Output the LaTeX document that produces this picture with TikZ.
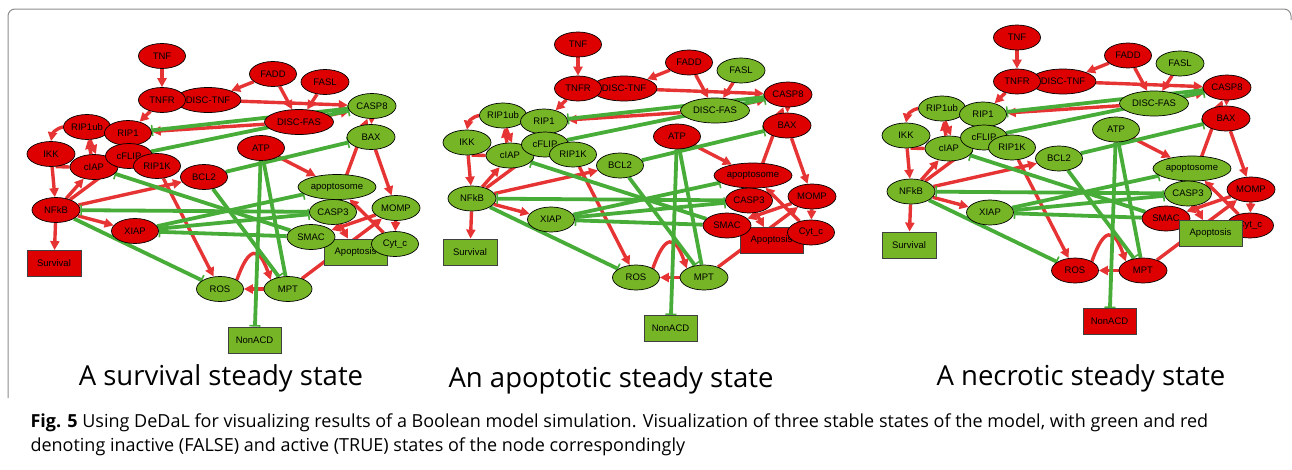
\documentclass[tikz,border=0pt]{standalone}
\usepackage{fontspec}
\setmainfont{Liberation Sans}
\newfontfamily\capfont{Open Sans}
\usetikzlibrary{arrows.meta,shapes.geometric}
\definecolor{nred}{RGB}{222,0,0}
\definecolor{ngreen}{RGB}{118,182,38}
\definecolor{ered}{RGB}{230,52,52}
\definecolor{egreen}{RGB}{72,172,56}
\pgfdeclarelayer{edges}
\pgfsetlayers{edges,main}
\newcommand\setred[2]{\foreach \n in {#2}{\expandafter\xdef\csname R#1\n\endcsname{}}}
\setred{1}{TNF,TNFR,DISCTNF,FADD,FASL,DISCFAS,RIP1ub,RIP1,IKK,cFLIP,cIAP,RIP1K,BCL2,ATP,NFkB,XIAP,Survival}
\setred{2}{TNF,TNFR,DISCTNF,FADD,CASP8,BAX,ATP,apoptosome,CASP3,MOMP,SMAC,CytC,Apoptosis}
\setred{3}{TNF,TNFR,DISCTNF,FADD,CASP8,BAX,MOMP,SMAC,CytC,ROS,MPT,NonACD}
\tikzset{
  st/.code={\ifcsname R\curpanel #1\endcsname\pgfkeysalso{fill=nred}\else\pgfkeysalso{fill=ngreen}\fi},
  ell/.style={ellipse, draw=black, line width=0.7pt, inner sep=0pt, minimum height=25pt,
    font=\fontsize{9.5}{10}\selectfont},
  nbox/.style={rectangle, draw=black!75, line width=0.8pt, inner sep=0pt, minimum height=26pt,
    font=\fontsize{9.5}{10}\selectfont},
  act/.style={draw=ered, line width=3.4pt, -{Triangle[length=9pt,width=9pt]}},
  redline/.style={draw=ered, line width=3.4pt},
  inh/.style={draw=egreen, line width=3.8pt, -{Bar[width=11pt,line width=1.6pt]}},
  lbl/.style={font=\capfont\fontsize{27.5}{32}\selectfont},
  captext/.style={anchor=base west, font=\capfont\fontsize{18}{21}\selectfont},
  framestyle/.style={draw=black!45, line width=1pt, rounded corners=7pt}
}
\newcommand\N[4]{\node[ell, st=#1, minimum width=#4pt] (#1) at (#2) {#3};}
\newcommand\B[4]{\node[nbox, st=#1, minimum width=#4pt] (#1) at (#2) {#3};}
\newcommand\netpanel[3]{%
\begin{scope}[shift={(#2,#3)}]
\def\curpanel{#1}
\N{DISCTNF}{208,100}{DISC-TNF}{66}
\N{TNF}{162,56}{TNF}{47}
\N{TNFR}{162,100}{TNFR}{47}
\N{FADD}{273,74}{FADD}{47}
\N{FASL}{325,82}{FASL}{48}
\N{DISCFAS}{299,122}{DISC-FAS}{69}
\N{CASP8}{372,106}{CASP8}{48}
\N{BAX}{371,137}{BAX}{48}
\N{ATP}{261,148}{ATP}{47}
\N{RIP1ub}{87,127}{RIP1ub}{47}
\N{RIP1}{128,133}{RIP1}{47}
\N{IKK}{51,154}{IKK}{48}
\N{cIAP}{94,167}{cIAP}{48}
\N{cFLIP}{129,156}{cFLIP}{47}
\N{RIP1K}{157,166}{RIP1K}{47}
\N{BCL2}{204,177}{BCL2}{47}
\N{apoptosome}{337,187}{apoptosome}{78}
\N{CASP3}{333,212}{CASP3}{47}
\N{MOMP}{396,208}{MOMP}{48}
\N{NFkB}{56,210}{NFkB}{48}
\N{XIAP}{135,231}{XIAP}{47}
\B{Survival}{54,263.5}{Survival}{54}
\ifnum#1=3 \else \B{Apoptosis}{355.5,252}{Apoptosis}{63}\fi
\N{SMAC}{311,237}{SMAC}{48}
\N{CytC}{395,244}{Cyt\_c}{47}
\ifnum#1=3 \B{Apoptosis}{355.5,252}{Apoptosis}{63}\fi
\N{ROS}{220,289}{ROS}{47}
\N{MPT}{288,289}{MPT}{48}
\B{NonACD}{254.5,340}{NonACD}{53}
\begin{pgfonlayer}{edges}
\draw[act] (TNF) -- (TNFR);
\draw[act] (FADD) -- (DISCTNF);
\draw[act] (FADD) -- (DISCFAS);
\draw[act] (FASL) -- (DISCFAS);
\draw[act] (TNFR) -- (RIP1);
\draw[act] (DISCFAS) -- (RIP1);
\draw[act] (DISCTNF) -- (CASP8);
\draw[act] (DISCFAS) -- (CASP8);
\draw[act] (CASP3) -- (CASP8);
\draw[act] (CASP8) -- (BAX);
\draw[act] ([xshift=-3pt]cIAP.north) -- ([xshift=1pt]RIP1ub.south);
\draw[act] ([xshift=3pt]RIP1ub.south) -- ([xshift=2pt]cIAP.north);
\draw[act] (RIP1ub.west) to[out=190,in=80] (IKK.north);
\draw[redline] (IKK.-70) -- (cIAP.west);
\draw[act] (IKK) -- (NFkB);
\draw[act] (NFkB) -- (cIAP);
\draw[act] (NFkB) -- (cFLIP);
\draw[act] (NFkB) -- (BCL2);
\draw[act] (NFkB) -- (XIAP);
\draw[act] (NFkB) -- (Survival);
\draw[act] (RIP1K) -- (ROS);
\draw[act] (ROS.north east) .. controls +(12,-34) and +(-12,-34) .. (MPT.north west);
\draw[act] (MPT) -- (ROS);
\draw[act] (MPT) -- (MOMP);
\draw[act] (BAX) -- (MOMP);
\draw[act] (MOMP) -- (SMAC);
\draw[act] (MOMP) -- (CytC);
\draw[act] (CytC) -- (apoptosome);
\draw[act] (ATP) -- (apoptosome);
\draw[act] (CASP3) -- (Apoptosis);
\draw[inh] (CASP8) -- (RIP1);
\draw[inh] (cFLIP) -- (CASP8);
\draw[inh] (BCL2) -- (BAX);
\draw[inh] (BCL2) -- (MPT);
\draw[inh] (MPT) -- (ATP);
\draw[inh] (ATP) -- (NonACD);
\draw[inh] (NFkB) -- (ROS);
\draw[inh] (CASP3) -- (NFkB);
\draw[inh] (SMAC) -- (cIAP);
\draw[inh] (SMAC) -- (XIAP);
\draw[inh] (XIAP) -- (apoptosome);
\draw[inh] (XIAP) -- (CASP3);
\end{pgfonlayer}
\end{scope}}
\begin{document}
\begin{tikzpicture}[x=1pt,y=-1pt]
\useasboundingbox (0,0) rectangle (1292,469);
\coordinate (f1) at (8,398);
\coordinate (f2) at (8,9);
\coordinate (f3) at (1291,9);
\coordinate (f4) at (1291,20);
\draw[framestyle] (f1) -- (f2) -- (f3) -- (f4);
\netpanel{1}{0}{0}
\netpanel{2}{416}{-11.5}
\netpanel{3}{855}{-18.5}
\node[lbl] (t1) at (221,378) {A survival steady state};
\node[lbl] (t2) at (611,380) {An apoptotic steady state};
\node[lbl] (t3) at (1081,378) {A necrotic steady state};
\node[captext] (c1) at (27,427) {\textbf{Fig. 5} Using DeDaL for visualizing results of a Boolean model simulation. Visualization of three stable states of the model, with green and red};
\node[captext] (c2) at (27,451) {denoting inactive (FALSE) and active (TRUE) states of the node correspondingly};
\end{tikzpicture}
\end{document}
